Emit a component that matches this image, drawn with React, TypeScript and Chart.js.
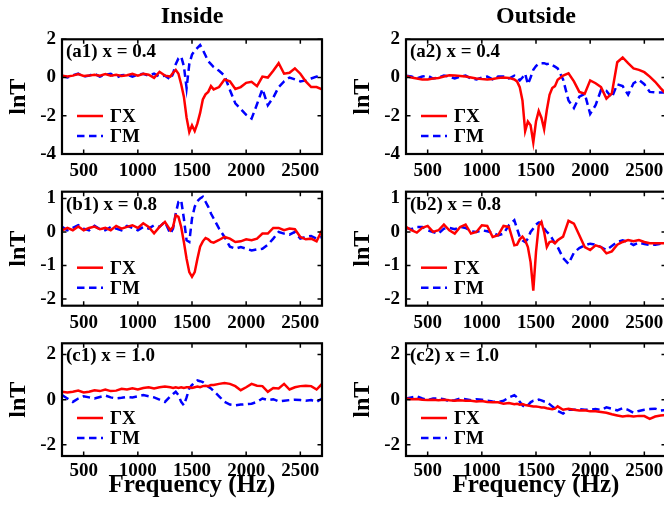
import React, { useEffect, useRef } from 'react';
import { Chart, registerables } from 'chart.js';

Chart.register(...registerables);

// ---------- data ----------
const FREQ = [
  300, 350, 400, 450, 500, 550, 600, 650, 700, 750,
  800, 850, 900, 950, 1000, 1050, 1100, 1150, 1200, 1250,
  1300, 1325, 1350, 1375, 1400, 1425, 1450, 1475, 1500, 1525,
  1550, 1575, 1600, 1625, 1650, 1675, 1700, 1750, 1800, 1850,
  1900, 1950, 2000, 2050, 2100, 2150, 2200, 2250, 2300, 2350,
  2400, 2450, 2500, 2550, 2600, 2650, 2700,
];

const X_TICKS = [500, 1000, 1500, 2000, 2500];
const Y_TICKS_A = [-4, -2, 0, 2];
const Y_TICKS_B = [-2, -1, 0, 1];
const Y_TICKS_C = [-2, 0, 2];

const SERIES_LABELS = ['ΓX', 'ΓM'];
const COLUMN_TITLES = ['Inside', 'Outside'];
const X_TITLE = 'Frequency (Hz)';
const Y_TITLE = 'lnT';

const A1_GX = [
  0.1, 0.05, 0.1, 0.18, 0.08, 0.1, 0.15, 0.1, 0.18, 0.1,
  0.15, 0.08, 0.12, 0.2, 0.1, 0.2, 0.15, -0.02, 0.3, 0.1,
  0.05, 0.25, 0.4, 0.2, -0.35, -1.0, -2.1, -2.85, -2.5, -2.8,
  -2.4, -1.85, -1.15, -0.88, -0.75, -0.45, -0.62, -0.5, -0.1, -0.2,
  -0.6, -0.5, -0.28, -0.22, -0.45, 0.05, 0.0, 0.35, 0.75, 0.2,
  0.25, 0.48, 0.2, -0.2, -0.5, -0.5, -0.62,
];
const A1_GM = [
  0.1, 0.0, 0.12, 0.2, 0.05, 0.1, 0.2, 0.05, 0.15, 0.2,
  0.0, 0.12, 0.15, 0.05, 0.15, 0.2, 0.1, 0.2, 0.05, 0.1,
  -0.1, 0.2, 0.7, 1.0, 1.1, 0.6, -0.55, 0.7, 1.2, 1.4,
  1.55, 1.7, 1.45, 1.15, 0.85, 0.7, 0.55, 0.35, 0.1, -0.65,
  -1.35, -1.65, -1.95, -2.15, -1.4, -0.6, -1.45, -1.05, -0.5, -0.2,
  0.0, -0.1, -0.2, -0.15, -0.05, 0.05, -0.05,
];
const A2_GX = [
  0.08, 0.0, -0.05, -0.1, -0.1, -0.05, -0.02, 0.05, 0.12, 0.1,
  0.08, 0.05, 0.0, -0.05, -0.08, -0.1, -0.08, -0.03, 0.0, -0.02,
  -0.1, -0.2, -0.5, -1.2, -2.8, -2.3, -2.5, -3.4, -2.3, -1.75,
  -2.1, -2.7, -1.7, -0.9, -0.55, -0.45, -0.12, 0.1, 0.22, -0.2,
  -0.75, -0.85, -0.15, -0.3, -0.5, -1.1, -0.83, 0.8, 1.05, 0.75,
  0.48, 0.4, 0.28, 0.05, -0.22, -0.55, -0.85,
];
const A2_GM = [
  0.1, 0.05, -0.05, 0.05, 0.1, -0.05, 0.0, 0.1, 0.05, -0.05,
  0.05, 0.1, -0.05, -0.1, 0.0, 0.05, -0.1, 0.05, 0.05, -0.05,
  0.1, 0.0, -0.15, 0.0, 0.2, -0.35, 0.0, 0.4, 0.6, 0.72,
  0.75, 0.75, 0.7, 0.74, 0.65, 0.57, 0.48, -0.1, -1.2, -1.6,
  -1.0, -0.85, -1.9, -1.45, -0.65, -0.7, -1.05, -0.35, -0.45, -0.9,
  -0.3, -0.13, -0.35, -0.75, -0.78, -0.78, -0.78,
];
const B1_GX = [
  0.05, 0.12, 0.05, 0.16, 0.05, 0.12, 0.16, 0.08, 0.12, 0.05,
  0.18, 0.1, 0.15, 0.2, 0.12, 0.26, 0.15, -0.04, 0.15, 0.3,
  0.05, 0.15, 0.5, 0.45, 0.15, -0.3, -0.8, -1.2, -1.34, -1.2,
  -0.8, -0.44, -0.28, -0.18, -0.22, -0.3, -0.32, -0.24, -0.15, -0.2,
  -0.3, -0.28, -0.22, -0.25, -0.2, -0.05, -0.05, 0.12, 0.12, 0.05,
  0.1, 0.08, -0.15, -0.22, -0.2, -0.28, 0.05,
];
const B1_GM = [
  0.15, 0.05, 0.12, 0.2, 0.1, 0.05, 0.18, 0.08, 0.05, 0.15,
  0.1, 0.05, 0.18, 0.12, 0.05, 0.15, 0.1, 0.2, 0.15, 0.3,
  -0.05, 0.1, 0.55, 0.9, 0.95, 0.4, -0.25, -0.3, 0.4, 0.75,
  0.92, 1.0, 1.05, 0.9, 0.75, 0.55, 0.4, 0.1, -0.15, -0.44,
  -0.5, -0.45, -0.5, -0.55, -0.52, -0.5, -0.38, -0.2, 0.0, -0.05,
  -0.08, 0.0, -0.2, -0.15, -0.12, -0.2, -0.15,
];
const B2_GX = [
  0.15, 0.05, -0.02, 0.12, 0.18, 0.0, 0.05, 0.22, 0.05, -0.05,
  0.15, 0.22, -0.05, 0.0, 0.2, 0.18, -0.15, -0.1, 0.18, 0.15,
  -0.4, -0.38, -0.22, -0.14, -0.25, -0.45, -0.9, -1.75, -0.6, 0.18,
  0.3, 0.0, -0.45, -0.3, -0.28, -0.34, -0.25, -0.14, 0.33, 0.25,
  -0.1, -0.45, -0.54, -0.4, -0.45, -0.64, -0.58, -0.38, -0.3, -0.24,
  -0.28, -0.24, -0.3, -0.34, -0.34, -0.34, -0.34,
];
const B2_GM = [
  0.12, 0.08, 0.15, 0.15, 0.05, 0.0, -0.05, 0.1, 0.12, 0.08,
  0.15, 0.12, 0.02, 0.0, 0.05, 0.02, -0.02, -0.1, -0.05, 0.2,
  0.35, 0.1, -0.15, -0.25, -0.3, -0.2, 0.0, 0.1, 0.22, 0.28,
  0.28, 0.1, 0.0, -0.08, -0.2, -0.34, -0.45, -0.78, -0.95, -0.62,
  -0.48, -0.4, -0.35, -0.38, -0.45, -0.54, -0.42, -0.3, -0.25, -0.3,
  -0.39, -0.32, -0.36, -0.39, -0.38, -0.35, -0.34,
];
const C1_GX = [
  0.35, 0.32, 0.35, 0.4, 0.32, 0.35, 0.42, 0.38, 0.45, 0.38,
  0.4, 0.48, 0.45, 0.5, 0.45, 0.52, 0.55, 0.5, 0.55, 0.58,
  0.55, 0.52, 0.55, 0.52, 0.55, 0.52, 0.55, 0.55, 0.52, 0.55,
  0.58, 0.55, 0.6, 0.62, 0.6, 0.65, 0.65, 0.7, 0.74, 0.7,
  0.6, 0.42, 0.55, 0.7, 0.62, 0.6, 0.35, 0.52, 0.5, 0.7,
  0.45, 0.55, 0.6, 0.62, 0.6, 0.45, 0.7,
];
const C1_GM = [
  0.2, 0.05, -0.1, 0.05, 0.15, 0.1, 0.05, 0.12, 0.18, 0.1,
  0.05, 0.08, 0.12, 0.1, 0.15, 0.2, 0.15, 0.1, 0.0, -0.1,
  0.15, 0.25, 0.35, 0.2, -0.1, -0.25, 0.1, 0.5, 0.65, 0.75,
  0.85, 0.82, 0.78, 0.68, 0.57, 0.5, 0.38, 0.15, -0.1, -0.22,
  -0.25, -0.22, -0.2, -0.18, -0.1, 0.05, -0.02, 0.02, -0.08, -0.05,
  -0.02, 0.0, -0.02, -0.05, -0.02, -0.1, 0.05,
];
const C2_GX = [
  0.05, 0.02, 0.03, 0.0, -0.02, 0.0, -0.03, 0.0, -0.03, -0.05,
  -0.03, -0.05, -0.05, -0.08, -0.06, -0.1, -0.12, -0.12, -0.18, -0.15,
  -0.2, -0.18, -0.22, -0.2, -0.24, -0.26, -0.28, -0.3, -0.3, -0.32,
  -0.35, -0.35, -0.38, -0.4, -0.42, -0.4, -0.3, -0.45, -0.4, -0.45,
  -0.48, -0.47, -0.52, -0.52, -0.55, -0.58, -0.65, -0.7, -0.75, -0.72,
  -0.75, -0.72, -0.73, -0.85, -0.75, -0.7, -0.68,
];
const C2_GM = [
  0.05, 0.1, 0.15, 0.05, -0.02, 0.05, 0.05, 0.02, -0.08, -0.02,
  0.05, 0.02, -0.03, 0.02, 0.0, -0.05, -0.08, -0.1, -0.05, 0.1,
  0.2, 0.1, -0.1, -0.25, -0.34, -0.25, -0.12, -0.05, -0.05, 0.0,
  -0.03, -0.08, -0.1, -0.2, -0.3, -0.4, -0.5, -0.62, -0.45, -0.45,
  -0.42, -0.45, -0.45, -0.42, -0.45, -0.34, -0.4, -0.48, -0.38, -0.45,
  -0.58, -0.5, -0.45, -0.42, -0.4, -0.48, -0.46,
];

const PANEL_LABELS = [
  ['(a1) x = 0.4', '(a2) x = 0.4'],
  ['(b1) x = 0.8', '(b2) x = 0.8'],
  ['(c1) x = 1.0', '(c2) x = 1.0'],
];
const PANEL_DATA = [
  [[A1_GX, A1_GM], [A2_GX, A2_GM]],
  [[B1_GX, B1_GM], [B2_GX, B2_GM]],
  [[C1_GX, C1_GM], [C2_GX, C2_GM]],
];
const ROW_Y_TICKS = [Y_TICKS_A, Y_TICKS_B, Y_TICKS_C];
const ROW_Y_RANGE = [[-4, 2], [-2.2, 1.2], [-2.5, 2.5]];

// ---------- layout / style ----------
const FONT = '"Liberation Serif", "Times New Roman", Times, serif';
const COLS = [
  { x: 0, w: 336, padRight: 14 },
  { x: 344, w: 330, padRight: 8 },
];
const ROWS = [
  { y: 0, h: 188, padTop: 0, xAxisH: 34, tickPad: 5.5 },
  { y: 188, h: 152, padTop: 3.7, xAxisH: 34.3, tickPad: 5.5 },
  { y: 340, h: 171, padTop: 3.3, xAxisH: 55, tickPad: 3.5 },
];
const Y_AXIS_W = 62;

const framePlugin = {
  id: 'frame',
  afterDraw(chart: any) {
    const { ctx, chartArea, scales } = chart;
    const { left, right, top, bottom } = chartArea;
    const tl = 4.5;
    ctx.save();
    ctx.strokeStyle = '#000';
    ctx.lineWidth = 1.5;
    ctx.beginPath();
    for (const t of scales.x.ticks) {
      const px = scales.x.getPixelForValue(t.value);
      ctx.moveTo(px, bottom);
      ctx.lineTo(px, bottom - tl);
      ctx.moveTo(px, top);
      ctx.lineTo(px, top + tl);
    }
    for (const t of scales.y.ticks) {
      const py = scales.y.getPixelForValue(t.value);
      ctx.moveTo(left, py);
      ctx.lineTo(left + tl, py);
      ctx.moveTo(right, py);
      ctx.lineTo(right - tl, py);
    }
    ctx.stroke();
    ctx.lineWidth = 2.2;
    ctx.strokeRect(left, top, right - left, bottom - top);
    ctx.restore();
  },
};

const insetLegendPlugin = {
  id: 'insetLegend',
  afterDatasetsDraw(chart: any, _args: any, opts: any) {
    const { ctx, chartArea } = chart;
    const { left, bottom } = chartArea;
    const dsets = chart.data.datasets;
    const n = dsets.length;
    dsets.forEach((ds: any, i: number) => {
      const y = bottom - opts.bottomOffset - (n - 1 - i) * opts.rowGap;
      ctx.save();
      ctx.strokeStyle = ds.borderColor;
      ctx.lineWidth = ds.borderWidth;
      ctx.setLineDash(ds.borderDash || []);
      ctx.beginPath();
      ctx.moveTo(left + opts.lineStart, y);
      ctx.lineTo(left + opts.lineEnd, y);
      ctx.stroke();
      ctx.setLineDash([]);
      ctx.fillStyle = '#000';
      ctx.font = opts.font;
      ctx.textAlign = 'left';
      ctx.textBaseline = 'middle';
      ctx.fillText(ds.label, left + opts.textStart, y + 1);
      ctx.restore();
    });
  },
};

const panelLabelPlugin = {
  id: 'panelLabel',
  afterDatasetsDraw(chart: any, _args: any, opts: any) {
    const { ctx, chartArea } = chart;
    ctx.save();
    ctx.fillStyle = '#000';
    ctx.font = opts.font;
    ctx.textAlign = 'left';
    ctx.textBaseline = 'middle';
    ctx.fillText(opts.text, chartArea.left + opts.dx, chartArea.top + opts.dy);
    ctx.restore();
  },
};

function buildConfig(row: number, col: number): any {
  const R = ROWS[row];
  const C = COLS[col];
  const [gx, gm] = PANEL_DATA[row][col];
  const [yMin, yMax] = ROW_Y_RANGE[row];
  const yTicks = ROW_Y_TICKS[row];
  const tickFont = { family: FONT, size: 19, weight: 'bold' as const };
  const bigFont = { family: FONT, size: 24, weight: 'bold' as const };
  return {
    type: 'line',
    data: {
      datasets: [
        {
          label: SERIES_LABELS[0],
          data: FREQ.map((f, i) => ({ x: f, y: gx[i] })),
          borderColor: '#ff0000',
          borderWidth: 2.5,
          pointRadius: 0,
          tension: 0,
          fill: false,
        },
        {
          label: SERIES_LABELS[1],
          data: FREQ.map((f, i) => ({ x: f, y: gm[i] })),
          borderColor: '#0000ff',
          borderWidth: 2.5,
          borderDash: [7.5, 4.5],
          pointRadius: 0,
          tension: 0,
          fill: false,
        },
      ],
    },
    options: {
      animation: false,
      responsive: false,
      maintainAspectRatio: false,
      events: [],
      layout: { padding: { top: R.padTop, left: 0, right: C.padRight, bottom: 0 } },
      plugins: {
        legend: { display: false },
        tooltip: { enabled: false },
        title: row === 0
          ? {
              display: true,
              text: COLUMN_TITLES[col],
              fullSize: false,
              color: '#000',
              font: bigFont,
              padding: { top: 2.6, bottom: 7.9 },
            }
          : { display: false },
        insetLegend: {
          bottomOffset: 18,
          rowGap: 20,
          lineStart: 15,
          lineEnd: 41,
          textStart: 48,
          font: `bold 19px ${FONT}`,
        },
        panelLabel: {
          text: PANEL_LABELS[row][col],
          dx: 4,
          dy: 13,
          font: `bold 19px ${FONT}`,
        },
      },
      scales: {
        x: {
          type: 'linear',
          min: 300,
          max: 2700,
          afterBuildTicks: (s: any) => {
            s.ticks = X_TICKS.map((v) => ({ value: v }));
          },
          afterFit: (s: any) => {
            s.height = R.xAxisH;
            s.paddingLeft = 0;
            s.paddingRight = 0;
          },
          grid: { display: false, drawTicks: false },
          border: { display: false },
          ticks: {
            padding: R.tickPad,
            color: '#000',
            font: tickFont,
            maxRotation: 0,
            autoSkip: false,
            callback: (v: any) => String(v),
          },
          title: row === 2
            ? {
                display: true,
                text: X_TITLE,
                color: '#000',
                font: { family: FONT, size: 25, weight: 'bold' as const },
                padding: { top: 0, bottom: 10 },
              }
            : { display: false },
        },
        y: {
          type: 'linear',
          min: yMin,
          max: yMax,
          afterBuildTicks: (s: any) => {
            s.ticks = yTicks.map((v) => ({ value: v }));
          },
          afterFit: (s: any) => {
            s.width = Y_AXIS_W;
            s.paddingTop = 0;
            s.paddingBottom = 0;
          },
          grid: { display: false, drawTicks: false },
          border: { display: false },
          ticks: {
            padding: 6,
            color: '#000',
            font: tickFont,
            autoSkip: false,
            callback: (v: any) => String(v),
          },
          title: {
            display: true,
            text: Y_TITLE,
            color: '#000',
            font: bigFont,
            padding: { top: 4, bottom: 0 },
          },
        },
      },
    },
    plugins: [framePlugin, insetLegendPlugin, panelLabelPlugin],
  };
}

function Panel({ row, col }: { row: number; col: number }) {
  const ref = useRef<HTMLCanvasElement>(null);
  const R = ROWS[row];
  const C = COLS[col];
  useEffect(() => {
    if (!ref.current) return;
    const chart = new Chart(ref.current, buildConfig(row, col));
    return () => chart.destroy();
  }, [row, col]);
  return (
    <canvas
      ref={ref}
      width={C.w}
      height={R.h}
      style={{ position: 'absolute', left: C.x, top: R.y, width: C.w, height: R.h }}
    />
  );
}

export default function App() {
  const cells: React.ReactNode[] = [];
  for (let r = 0; r < 3; r++) {
    for (let c = 0; c < 2; c++) {
      cells.push(<Panel key={`${r}-${c}`} row={r} col={c} />);
    }
  }
  return (
    <div
      style={{
        position: 'absolute',
        left: 0,
        top: 0,
        width: 664,
        height: 511,
        overflow: 'hidden',
        background: '#fff',
      }}
    >
      {cells}
    </div>
  );
}
